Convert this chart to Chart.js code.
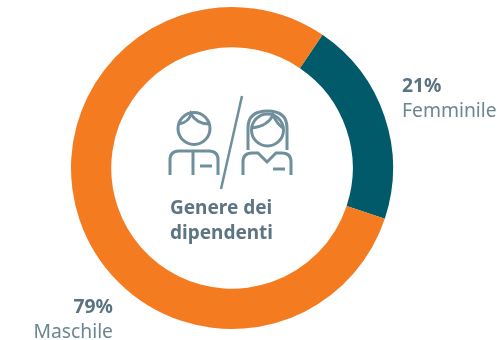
<!DOCTYPE html>
<html>
<head>
  <title>Genere dei dipendenti</title>
  <style>
    body { margin: 0; background: #fff; overflow: hidden; }
    #wrap { position: relative; width: 497px; height: 340px; font-family: 'Noto Sans', sans-serif; color: #6d8591; }
    canvas { position: absolute; left: 0; top: 0; }
    svg { position: absolute; left: 0; top: 0; }
    .lbl { position: absolute; white-space: nowrap; font-size: 19.3px; line-height: 25px; }
    .lbl b { display: block; color: #5a7382; font-weight: 700; }
    .left { text-align: right; }
    #centerText { position: absolute; left: 170px; top: 195px; font-size: 19px; line-height: 25px; font-weight: 700; color: #5d7583; }
  </style>
</head>
<body>
  <div id="wrap">
    <canvas id="genderChart" width="497" height="340"></canvas>
    <svg width="497" height="340" fill="none" stroke="#6f8f9c" stroke-width="3">
      <circle cx="194" cy="128.5" r="16"/>
      <path d="M179 124 Q189 122 191 114 Q197 124 209 124"/>
      <path d="M170 175 V160 Q170 151 179 151 H209 Q218 151 218 160 V175"/>
      <path d="M193 151 V175"/>
      <path d="M200 166 H212"/>
      <path d="M242 96 L221 189" stroke-width="2.5"/>
      <circle cx="267.5" cy="130" r="16"/>
      <path d="M248 150 V128 Q248 111 267.5 111 Q287 111 287 128 V150"/>
      <path d="M252 128 Q268 126 273 115 Q277 124 283 128"/>
      <path d="M243 175 V162 Q243 153 252 153 H258 L267 162 L276 153 H282 Q291 153 291 162 V175"/>
      <path d="M273 169 H285"/>
    </svg>
    <div id="centerText">Genere dei<br>dipendenti</div>
    <div class="lbl" style="left:402px;top:72px"><b id="pctF"></b><span id="nameF"></span></div>
    <div class="lbl left" style="right:384px;top:293px"><b id="pctM"></b><span id="nameM"></span></div>
  </div>

  <script src="https://cdn.jsdelivr.net/npm/chart.js"></script>
  <script>
    const categories = ["Femminile", "Maschile"];
    const percentLabels = ["21%", "79%"];
    const values = [20.6, 79.4];
    const colors = ["#005a6a", "#f47b20"];

    document.getElementById("pctF").textContent = percentLabels[0];
    document.getElementById("nameF").textContent = categories[0];
    document.getElementById("pctM").textContent = percentLabels[1];
    document.getElementById("nameM").textContent = categories[1];

    new Chart(document.getElementById("genderChart").getContext("2d"), {
      type: "doughnut",
      data: {
        labels: categories,
        datasets: [{
          data: values,
          backgroundColor: colors,
          borderWidth: 0
        }]
      },
      options: {
        responsive: false,
        animation: false,
        rotation: 34.2,
        cutout: "75%",
        layout: { padding: { left: 71, right: 104, top: 7, bottom: 11 } },
        plugins: { legend: { display: false }, tooltip: { enabled: false } }
      }
    });
  </script>
</body>
</html>
